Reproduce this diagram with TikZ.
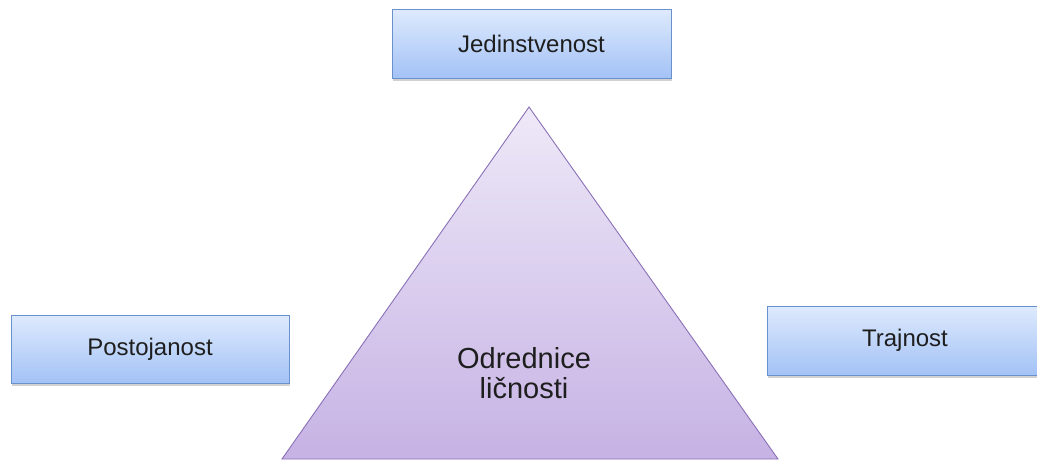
\documentclass[tikz,border=0pt]{standalone}
\usepackage{fontspec}
\setmainfont{Liberation Sans}
\usetikzlibrary{shadows}
\definecolor{boxtop}{RGB}{222,234,253}
\definecolor{boxbot}{RGB}{163,194,246}
\definecolor{boxline}{RGB}{104,145,205}
\definecolor{tritop}{RGB}{238,233,248}
\definecolor{tribot}{RGB}{198,178,228}
\definecolor{triline}{RGB}{138,112,182}
\definecolor{txt}{RGB}{30,30,30}
\tikzset{
  labelbox/.style={draw=boxline, line width=1pt, top color=boxtop, bottom color=boxbot,
    drop shadow={shadow xshift=1pt, shadow yshift=-3pt, opacity=0.3, fill=black!60},
    inner sep=0pt, text=txt, font=\fontsize{24}{26}\selectfont},
  tri/.style={draw=triline, line width=0.9pt, top color=tritop, bottom color=tribot}
}
\begin{document}
\begin{tikzpicture}[x=1pt,y=-1pt]
\useasboundingbox (0,0) rectangle (1037,461);
\path[tri] (529,107) coordinate (apex) -- (778,459) coordinate (br) -- (282,459) coordinate (bl) -- cycle;
\node[text=txt, font=\fontsize{29}{30}\selectfont, align=center] (center) at (524,373) {Odrednice\\ličnosti};
\node[labelbox, minimum width=279pt, minimum height=69pt] (jed) at (531.5,43.5) {Jedinstvenost};
\node[labelbox, minimum width=278pt, minimum height=68pt] (pos) at (150,349) {Postojanost};
\node[labelbox, minimum width=276pt, minimum height=69pt] (tra) at (905,340.5) {Trajnost};
\end{tikzpicture}
\end{document}
